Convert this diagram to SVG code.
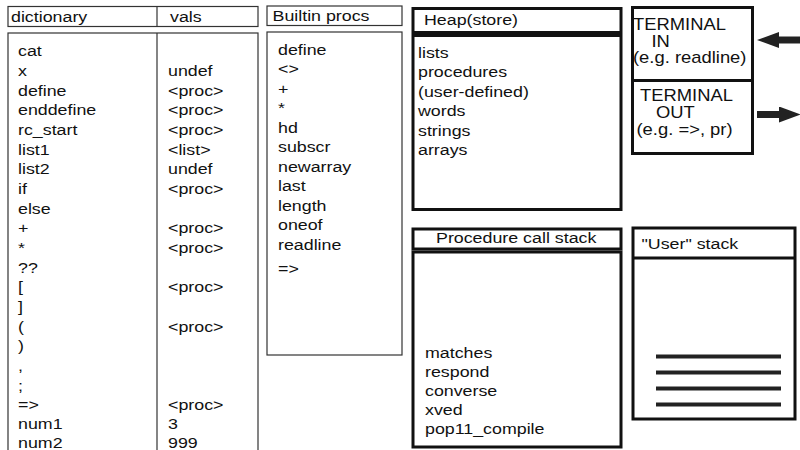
<svg xmlns="http://www.w3.org/2000/svg" width="800" height="450" viewBox="0 0 800 450">
  <style>
    .thin { fill: #fff; stroke: #333; stroke-width: 1.2; }
    .thick { fill: #fff; stroke: #111; stroke-width: 3; }
    .rule { stroke: #111; stroke-width: 3; }
    .bar { stroke: #222; stroke-width: 4; }
    text { font-family: "Liberation Sans", Arial, Helvetica, sans-serif; font-size: 15.5px; fill: #111; }
    .big text { font-size: 16px; }
    .arrow { stroke: #222; stroke-width: 7; fill: none; }
  </style>
  <defs>
    <marker id="head" markerUnits="userSpaceOnUse" markerWidth="22" markerHeight="16" refX="0" refY="8" orient="auto">
      <path d="M0,0 L22,8 L0,16 z" fill="#222"/>
    </marker>
  </defs>
  <rect width="800" height="450" fill="#fff"/>

  <!-- dictionary / vals table -->
  <g id="dictionary">
    <rect class="thin" x="8" y="6.5" width="250" height="20"/>
    <line x1="157" y1="6.5" x2="157" y2="26.5" stroke="#333" stroke-width="1.2"/>
    <rect class="thin" x="8" y="33" width="250" height="440"/>
    <line x1="157" y1="33" x2="157" y2="473" stroke="#333" stroke-width="1.2"/>
    <g transform="translate(11 0) scale(1.15 1)">
      <text y="22">dictionary</text>
    </g>
    <g transform="translate(170 0) scale(1.15 1)">
      <text y="22">vals</text>
    </g>
    <g transform="translate(18 0) scale(1.15 1)">
      <text y="56.5">cat</text>
      <text y="76.2">x</text>
      <text y="95.8">define</text>
      <text y="115.5">enddefine</text>
      <text y="135.1">rc_start</text>
      <text y="154.8">list1</text>
      <text y="174.4">list2</text>
      <text y="194.1">if</text>
      <text y="213.7">else</text>
      <text y="233.4">+</text>
      <text y="253">*</text>
      <text y="272.7">??</text>
      <text y="292.3">[</text>
      <text y="312">]</text>
      <text y="331.6">(</text>
      <text y="351.3">)</text>
      <text y="370.9">,</text>
      <text y="390.6">;</text>
      <text y="410">=&gt;</text>
      <text y="429.5">num1</text>
      <text y="448">num2</text>
    </g>
    <g transform="translate(168 0) scale(1.15 1)">
      <text y="76.2">undef</text>
      <text y="95.8">&lt;proc&gt;</text>
      <text y="115.5">&lt;proc&gt;</text>
      <text y="135.1">&lt;proc&gt;</text>
      <text y="154.8">&lt;list&gt;</text>
      <text y="174.4">undef</text>
      <text y="194.1">&lt;proc&gt;</text>
      <text y="233.4">&lt;proc&gt;</text>
      <text y="253">&lt;proc&gt;</text>
      <text y="292.3">&lt;proc&gt;</text>
      <text y="331.6">&lt;proc&gt;</text>
      <text y="410">&lt;proc&gt;</text>
      <text y="429.5">3</text>
      <text y="448">999</text>
    </g>
  </g>

  <!-- builtin procedures -->
  <g id="builtins">
    <rect class="thin" x="267" y="6" width="135" height="19.5"/>
    <rect class="thin" x="267" y="32" width="135" height="323"/>
    <g transform="translate(272.5 0) scale(1.15 1)">
      <text y="21.5">Builtin procs</text>
    </g>
    <g transform="translate(278 0) scale(1.15 1)">
      <text y="55">define</text>
      <text y="74.5">&lt;&gt;</text>
      <text y="94">+</text>
      <text y="113.5">*</text>
      <text y="133">hd</text>
      <text y="152.5">subscr</text>
      <text y="172">newarray</text>
      <text y="191.5">last</text>
      <text y="211">length</text>
      <text y="230.5">oneof</text>
      <text y="250">readline</text>
      <text y="274">=&gt;</text>
    </g>
  </g>

  <!-- heap -->
  <g id="heap">
    <rect class="thick" x="413" y="8.5" width="208" height="24"/>
    <rect class="thick" x="413" y="35.5" width="208" height="174"/>
    <g transform="translate(424 0) scale(1.15 1)">
      <text y="25">Heap(store)</text>
    </g>
    <g transform="translate(418 0) scale(1.15 1)">
      <text y="58">lists</text>
      <text y="77.5">procedures</text>
      <text y="97">(user-defined)</text>
      <text y="116.5">words</text>
      <text y="136">strings</text>
      <text y="155.5">arrays</text>
    </g>
  </g>

  <!-- procedure call stack -->
  <g id="call-stack">
    <rect class="thick" x="413" y="229" width="208" height="20"/>
    <rect class="thick" x="413" y="252" width="208" height="195"/>
    <g transform="translate(436 0) scale(1.15 1)">
      <text y="243.5">Procedure call stack</text>
    </g>
    <g transform="translate(425 0) scale(1.15 1)">
      <text y="358">matches</text>
      <text y="377">respond</text>
      <text y="396">converse</text>
      <text y="415">xved</text>
      <text y="434">pop11_compile</text>
    </g>
  </g>

  <!-- terminal in / out -->
  <g id="terminal">
    <rect class="thick" x="632.5" y="7.5" width="120" height="146"/>
    <line class="rule" x1="632.5" y1="80.5" x2="752.5" y2="80.5"/>
    <g class="big" transform="translate(633 0) scale(1.15 1)">
      <text y="30">TERMINAL</text>
      <text y="63">(e.g. readline)</text>
    </g>
    <g class="big" transform="translate(651.5 0) scale(1.15 1)">
      <text y="47">IN</text>
    </g>
    <g class="big" transform="translate(640 0) scale(1.15 1)">
      <text y="101.5">TERMINAL</text>
    </g>
    <g class="big" transform="translate(656 0) scale(1.15 1)">
      <text y="118">OUT</text>
    </g>
    <g class="big" transform="translate(636.5 0) scale(1.15 1)">
      <text y="135">(e.g. =&gt;, pr)</text>
    </g>
  </g>

  <!-- user stack -->
  <g id="user-stack">
    <rect class="thick" x="633" y="228" width="162" height="191"/>
    <line class="rule" x1="633" y1="258" x2="795" y2="258"/>
    <g transform="translate(641.5 0) scale(1.15 1)">
      <text y="249">"User" stack</text>
    </g>
    <line class="bar" x1="656" y1="356.5" x2="781" y2="356.5"/>
    <line class="bar" x1="656" y1="372.5" x2="781" y2="372.5"/>
    <line class="bar" x1="656" y1="388.5" x2="781" y2="388.5"/>
    <line class="bar" x1="656" y1="404.5" x2="781" y2="404.5"/>
  </g>

  <!-- terminal input and output arrows -->
  <g id="connectors">
    <line class="arrow" x1="801" y1="40" x2="779" y2="40" marker-end="url(#head)"/>
    <line class="arrow" x1="757" y1="114.5" x2="779" y2="114.5" marker-end="url(#head)"/>
  </g>
</svg>
